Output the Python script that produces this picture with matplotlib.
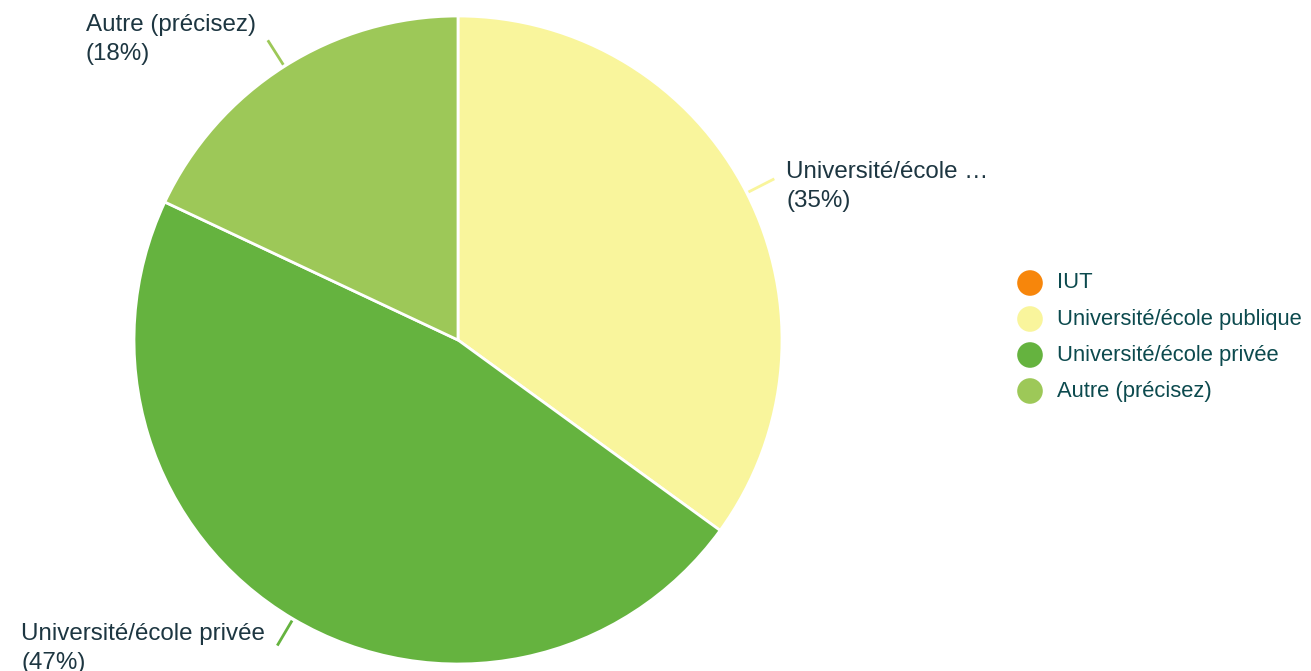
import numpy as np
import matplotlib.pyplot as plt

plt.rcParams["font.family"] = ["Liberation Sans", "DejaVu Sans"]

# data
categories = ["IUT", "Université/école publique", "Université/école privée", "Autre (précisez)"]
short_labels = ["IUT", "Université/école …", "Université/école privée", "Autre (précisez)"]
shares = [0, 35, 47, 18]
colors = ["#F7860B", "#F9F59C", "#65B33F", "#9DC858"]

W, H = 1311, 671
fig = plt.figure(figsize=(W / 100, H / 100), dpi=100)
ax = fig.add_axes([0, 0, 1, 1])

cx, cy, r = 458, H - 340, 324
wedges, _ = ax.pie(shares, colors=colors, startangle=90, counterclock=False,
                   center=(cx, cy), radius=r, frame=True,
                   wedgeprops=dict(edgecolor="white", linewidth=2))
ax.set_xlim(0, W)
ax.set_ylim(0, H)
ax.axis("off")

label_color = "#1d3641"
for w, lab, val, col in zip(wedges, short_labels, shares, colors):
    if val == 0:
        continue
    ang = np.deg2rad((w.theta1 + w.theta2) / 2)
    x0, y0 = cx + 326 * np.cos(ang), cy + 326 * np.sin(ang)
    x1, y1 = cx + 355 * np.cos(ang), cy + 355 * np.sin(ang)
    ax.plot([x0, x1], [y0, y1], color=col, lw=2, solid_capstyle="butt")
    txt = f"{lab}\n({val}%)"
    if np.cos(ang) >= 0:
        ax.text(x1 + 12, y1 - 8, txt, ha="left", va="center", fontsize=17.4,
                color=label_color, linespacing=1.4)
    else:
        ax.text(x1 - 12, y1 + (-3 if np.sin(ang) < 0 else 1), txt, ha="right",
                va="center", multialignment="left", fontsize=17.4,
                color=label_color, linespacing=1.4)

# legend
legend_color = "#0c4a4e"
for i, (cat, col) in enumerate(zip(categories, colors)):
    y = H - (283 + 36 * i)
    ax.scatter([1030], [y], s=340, color=col, edgecolors="none")
    ax.text(1057, y, cat, ha="left", va="center", fontsize=15.8, color=legend_color)

fig.savefig("out.png", dpi=100)
